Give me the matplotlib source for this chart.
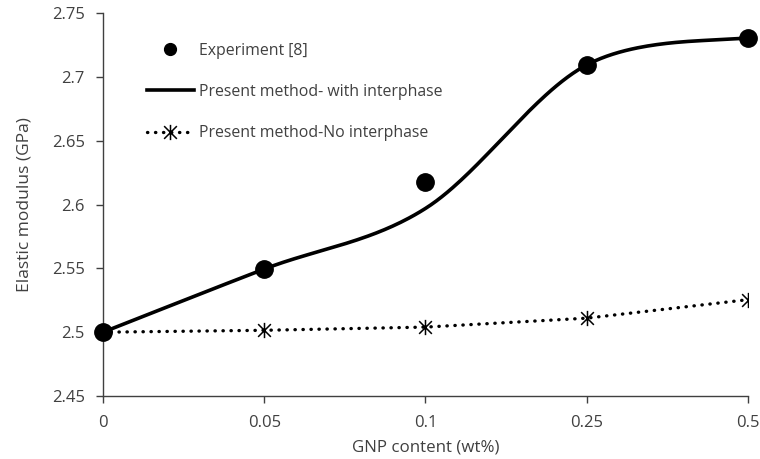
import numpy as np
import matplotlib
matplotlib.use("Agg")
import matplotlib.pyplot as plt
from matplotlib.path import Path

# GNP content categories (equally spaced on the axis)
gnp_labels = ["0", "0.05", "0.1", "0.25", "0.5"]
experiment = [2.5, 2.5495, 2.618, 2.7095, 2.731]
with_interphase = [2.5, 2.5495, 2.597, 2.7095, 2.731]
no_interphase = [2.5, 2.5015, 2.504, 2.511, 2.5255]


def smooth_curve(y, n=60, tension=0.5):
    # cardinal spline through the points, like a spreadsheet "smoothed line"
    y = np.asarray(y, dtype=float)
    x = np.arange(len(y), dtype=float)
    px = np.concatenate([[x[0]], x, [x[-1]]])
    py = np.concatenate([[y[0]], y, [y[-1]]])
    xs, ys = [], []
    for i in range(1, len(px) - 2):
        t = np.linspace(0, 1, n)
        m1x = tension * (px[i + 1] - px[i - 1])
        m2x = tension * (px[i + 2] - px[i])
        m1y = tension * (py[i + 1] - py[i - 1])
        m2y = tension * (py[i + 2] - py[i])
        h00 = 2 * t**3 - 3 * t**2 + 1
        h10 = t**3 - 2 * t**2 + t
        h01 = -2 * t**3 + 3 * t**2
        h11 = t**3 - t**2
        xs.append(h00 * px[i] + h10 * m1x + h01 * px[i + 1] + h11 * m2x)
        ys.append(h00 * py[i] + h10 * m1y + h01 * py[i + 1] + h11 * m2y)
    return np.concatenate(xs), np.concatenate(ys)


# star marker: an X with a vertical stroke through it
star = Path([(-1, -1), (1, 1), (-1, 1), (1, -1), (0, -1.2), (0, 1.2)],
            [Path.MOVETO, Path.LINETO, Path.MOVETO, Path.LINETO,
             Path.MOVETO, Path.LINETO])

plt.rcParams['font.family'] = ['Open Sans', 'DejaVu Sans']
txt = '#404040'
dots = (0, (0.1, 2.3))

fig = plt.figure(figsize=(7.6, 4.59), dpi=100)
ax = fig.add_axes([0.1355, 0.1373, 0.8485, 0.8337])

pos = np.arange(len(gnp_labels))

sx, sy = smooth_curve(with_interphase)
ax.plot(sx, sy, color='black', lw=2.6, solid_capstyle='round', zorder=3)
ax.plot(pos, no_interphase, color='black', lw=2.4, linestyle=dots,
        dash_capstyle='round', marker=star, ms=11, mew=1.1, zorder=3)
ax.plot(pos, experiment, 'o', color='black', ms=12.5, zorder=4, clip_on=False)

# legend handles
h1, = ax.plot([], [], 'o', color='black', ms=8.5)
h2, = ax.plot([], [], color='black', lw=2.6)
h3, = ax.plot([], [], color='black', lw=2.4, linestyle=dots,
              dash_capstyle='round', marker=star, ms=11, mew=1.1)
ax.legend([h1, h2, h3],
          ['Experiment [8]', 'Present method- with interphase',
           'Present method-No interphase'],
          loc='upper left', bbox_to_anchor=(0.058, 0.94),
          frameon=False, fontsize=11.4, labelcolor=txt, handlelength=3.0,
          handletextpad=0.3, labelspacing=1.6, borderaxespad=0)

ax.set_xlim(0, len(gnp_labels) - 1)
ax.set_ylim(2.45, 2.75)
ax.set_xticks(pos)
ax.set_xticklabels(gnp_labels)
ax.set_yticks([2.45, 2.5, 2.55, 2.6, 2.65, 2.7, 2.75])
ax.set_yticklabels(['2.45', '2.5', '2.55', '2.6', '2.65', '2.7', '2.75'])
ax.tick_params(colors='#404040', labelcolor=txt, labelsize=12, length=5, width=1)
ax.tick_params(axis='x', pad=9)
ax.tick_params(axis='y', pad=8)

for side in ['top', 'right']:
    ax.spines[side].set_visible(False)
for side in ['left', 'bottom']:
    ax.spines[side].set_color('#404040')
    ax.spines[side].set_linewidth(1)

ax.set_xlabel('GNP content (wt%)', fontsize=12.2, color=txt, labelpad=6)
ax.set_ylabel('Elastic modulus (GPa)', fontsize=12.5, color=txt, labelpad=14)

fig.savefig('out.png', dpi=100)
